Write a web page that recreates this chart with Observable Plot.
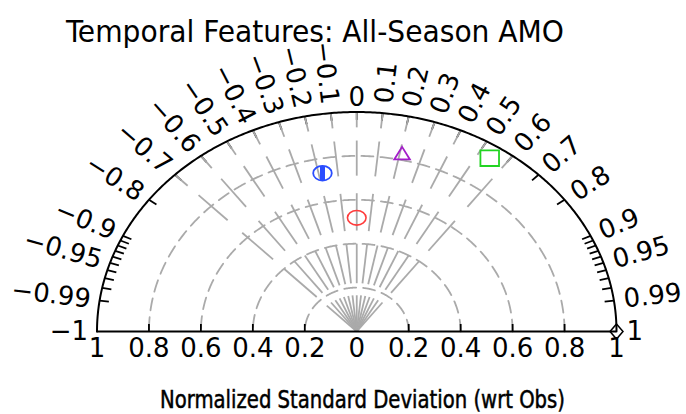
<!DOCTYPE html>
<html>
<head>
<meta charset="utf-8">
<script src="https://cdn.jsdelivr.net/npm/d3@7"></script>
<script src="https://cdn.jsdelivr.net/npm/@observablehq/plot@0.6"></script>
<style>
  html, body { margin: 0; padding: 0; background: #fff; }
  #chart svg { display: block; }
</style>
</head>
<body>
<div id="chart"></div>
<script>
// Pattern correlation and normalized standard deviation of each run vs. observations
const runCorr = [0.0, -0.18, 0.21, 0.544];
const runStd = [0.518, 0.733, 0.831, 0.941];
// Observation reference point
const refCorr = 1;
const refStd = 1;

// Correlation labels around the arc
const corrLabels = [-1, -0.99, -0.95, -0.9, -0.8, -0.7, -0.6, -0.5, -0.4, -0.3, -0.2, -0.1,
  0, 0.1, 0.2, 0.3, 0.4, 0.5, 0.6, 0.7, 0.8, 0.9, 0.95, 0.99, 1];
// Correlation tick marks on the arc
const corrMajor = [-0.9, -0.8, -0.7, -0.6, -0.5, -0.4, -0.3, -0.2, -0.1, 0,
  0.1, 0.2, 0.3, 0.4, 0.5, 0.6, 0.7, 0.8, 0.9];
const corrMinor = [-0.99, -0.98, -0.97, -0.96, -0.95, -0.94, -0.93, -0.92, -0.91,
  0.91, 0.92, 0.93, 0.94, 0.95, 0.96, 0.97, 0.98, 0.99];
// Standard deviation axis
const stdTicks = [-0.8, -0.6, -0.4, -0.2, 0.2, 0.4, 0.6, 0.8];
const stdLabels = [-1, -0.8, -0.6, -0.4, -0.2, 0, 0.2, 0.4, 0.6, 0.8, 1];
const stdArcs = [0.2, 0.4, 0.6, 0.8];
// Gray correlation rays and the radial bands they are drawn in
const rayCorr = [-0.7, -0.6, -0.5, -0.4, -0.3, -0.2, -0.1, 0, 0.1, 0.2, 0.3, 0.4, 0.5, 0.6];
const rayBands = [[0, 0.165], [0.22, 0.40], [0.46, 0.63], [0.71, 0.87], [0.93, 1.0]];

const W = 686, H = 414;
const mL = 96.5, mR = 70, mT = 111.5, mB = 83;
const kx = (W - mL - mR) / 2;   // pixels per unit along x
const ky = H - mT - mB;         // pixels per unit along y

const sinOf = c => Math.sqrt(Math.max(0, 1 - c * c));
const px = (r, c) => r * c;
const py = (r, c) => r * sinOf(c);

// half-circle samples used for the arcs
const deg = d3.range(0, 180.001, 0.5).map(a => Math.cos(a * Math.PI / 180));
const arcPts = stdArcs.flatMap(r => deg.map(c => ({r, x: px(r, c), y: py(r, c)})));
const outerPts = deg.map(c => ({x: px(1, c), y: py(1, c)}));

const rays = rayCorr.flatMap(c => rayBands.map(([r1, r2]) => ({
  x1: px(r1, c), y1: py(r1, c), x2: px(r2, c), y2: py(r2, c)
})));

const tickLen = 0.036;
const arcTicks = corrMajor.concat(corrMinor).map(c => ({
  x1: px(1, c), y1: py(1, c), x2: px(1 - tickLen, c), y2: py(1 - tickLen, c)
}));

// label placement: offset outward along the on-screen radial direction
function labelPos(c, off) {
  const s = sinOf(c);
  let ux = c * kx, uy = s * ky;
  const n = Math.hypot(ux, uy);
  ux /= n; uy /= n;
  const ang = Math.atan2(uy, ux) * 180 / Math.PI;
  return {
    c,
    x: c + off * ux / kx,
    y: s + off * uy / ky,
    rot: c > 0 ? -ang : (c < 0 ? 180 - ang : 0),
    text: c < 0 ? "\u2212" + Math.abs(c) : String(c)
  };
}
const leftLab = corrLabels.filter(c => c < 0).map(c => labelPos(c, 9));
const rightLab = corrLabels.filter(c => c > 0).map(c => labelPos(c, 10));
const topLab = corrLabels.filter(c => c === 0).map(c => labelPos(c, 14));

// marker shapes
const K = 0.5523;
const ellipse = (rx, ry) => ({draw(ctx) {
  ctx.moveTo(rx, 0);
  ctx.bezierCurveTo(rx, ry * K, rx * K, ry, 0, ry);
  ctx.bezierCurveTo(-rx * K, ry, -rx, ry * K, -rx, 0);
  ctx.bezierCurveTo(-rx, -ry * K, -rx * K, -ry, 0, -ry);
  ctx.bezierCurveTo(rx * K, -ry, rx, -ry * K, rx, 0);
  ctx.closePath();
}});
const vbar = h => ({draw(ctx) { ctx.moveTo(0, -h); ctx.lineTo(0, h); }});
const tri = (w, h) => ({draw(ctx) {
  ctx.moveTo(0, -h); ctx.lineTo(w, h); ctx.lineTo(-w, h); ctx.closePath();
}});
const rect = (w, h) => ({draw(ctx) {
  ctx.moveTo(-w, -h); ctx.lineTo(w, -h); ctx.lineTo(w, h); ctx.lineTo(-w, h); ctx.closePath();
}});
const diamond = (w, h) => ({draw(ctx) {
  ctx.moveTo(0, -h); ctx.lineTo(w, 0); ctx.lineTo(0, h); ctx.lineTo(-w, 0); ctx.closePath();
}});

const run = i => [{x: px(runStd[i], runCorr[i]), y: py(runStd[i], runCorr[i])}];
const ref = [{x: px(refStd, refCorr), y: py(refStd, refCorr)}];

const gray = "#aaaaaa";
const chart = Plot.plot({
  width: W, height: H,
  marginLeft: mL, marginRight: mR, marginTop: mT, marginBottom: mB,
  x: {domain: [-1, 1], axis: null},
  y: {domain: [0, 1], axis: null},
  style: {fontFamily: "'DejaVu Sans', sans-serif", fontSize: "26px", background: "#fff", overflow: "visible"},
  marks: [
    Plot.line(arcPts, {x: "x", y: "y", z: "r", stroke: gray, strokeWidth: 1.8, strokeDasharray: "12,7"}),
    Plot.link(arcTicks, {x1: "x1", y1: "y1", x2: "x2", y2: "y2", stroke: "black", strokeWidth: 1.8}),
    Plot.link(rays, {x1: "x1", y1: "y1", x2: "x2", y2: "y2", stroke: gray, strokeWidth: 1.8}),
    Plot.line(outerPts, {x: "x", y: "y", stroke: "black", strokeWidth: 2}),
    Plot.ruleY([0], {x1: -1, x2: 1, stroke: "black", strokeWidth: 2}),
    Plot.ruleX(stdTicks, {y1: 0, y2: 7 / ky, stroke: "black", strokeWidth: 1.8}),
    Plot.text(stdLabels, {x: d => d, y: 0, text: d => String(Math.abs(d)), dy: 17, lineAnchor: "middle", fontSize: 26}),
    Plot.text(leftLab, {x: "x", y: "y", text: "text", rotate: "rot", textAnchor: "end", lineAnchor: "middle", fontSize: 26}),
    Plot.text(rightLab, {x: "x", y: "y", text: "text", rotate: "rot", textAnchor: "start", lineAnchor: "middle", fontSize: 26}),
    Plot.text(topLab, {x: "x", y: "y", text: "text", textAnchor: "middle", lineAnchor: "middle", fontSize: 26}),
    Plot.dot(run(0), {x: "x", y: "y", r: 5, symbol: ellipse(9.3, 7.3), stroke: "#ff3b3b", fill: "none", strokeWidth: 1.6}),
    Plot.dot(run(1), {x: "x", y: "y", r: 5, symbol: ellipse(9.3, 7.3), stroke: "#2a4dff", fill: "none", strokeWidth: 1.8}),
    Plot.dot(run(1), {x: "x", y: "y", r: 5, symbol: vbar(7.3), stroke: "#2a4dff", strokeWidth: 5}),
    Plot.dot(run(2), {x: "x", y: "y", r: 5, symbol: tri(7.8, 6.3), stroke: "#a31fc9", fill: "none", strokeWidth: 1.8}),
    Plot.dot(run(3), {x: "x", y: "y", r: 5, symbol: rect(9.3, 7.8), stroke: "#22d422", fill: "none", strokeWidth: 1.8}),
    Plot.dot(ref, {x: "x", y: "y", r: 5, symbol: diamond(6.5, 7.5), stroke: "black", fill: "none", strokeWidth: 1.5})
  ]
});

const svg = d3.select(chart);
svg.append("text")
  .attr("x", 66).attr("y", 41.5)
  .attr("text-anchor", "start")
  .attr("font-family", "'DejaVu Sans Condensed', 'DejaVu Sans', sans-serif")
  .attr("font-size", 30)
  .attr("textLength", 498).attr("lengthAdjust", "spacingAndGlyphs")
  .attr("fill", "black")
  .text("Temporal Features: All-Season AMO");
svg.append("text")
  .attr("x", 160).attr("y", 408)
  .attr("text-anchor", "start")
  .attr("font-family", "'DejaVu Sans Condensed', 'DejaVu Sans', sans-serif")
  .attr("font-size", 25)
  .attr("textLength", 405).attr("lengthAdjust", "spacingAndGlyphs")
  .attr("fill", "black")
  .attr("stroke", "black").attr("stroke-width", 0.5)
  .text("Normalized Standard Deviation (wrt Obs)");

document.getElementById("chart").appendChild(chart);
</script>
</body>
</html>
